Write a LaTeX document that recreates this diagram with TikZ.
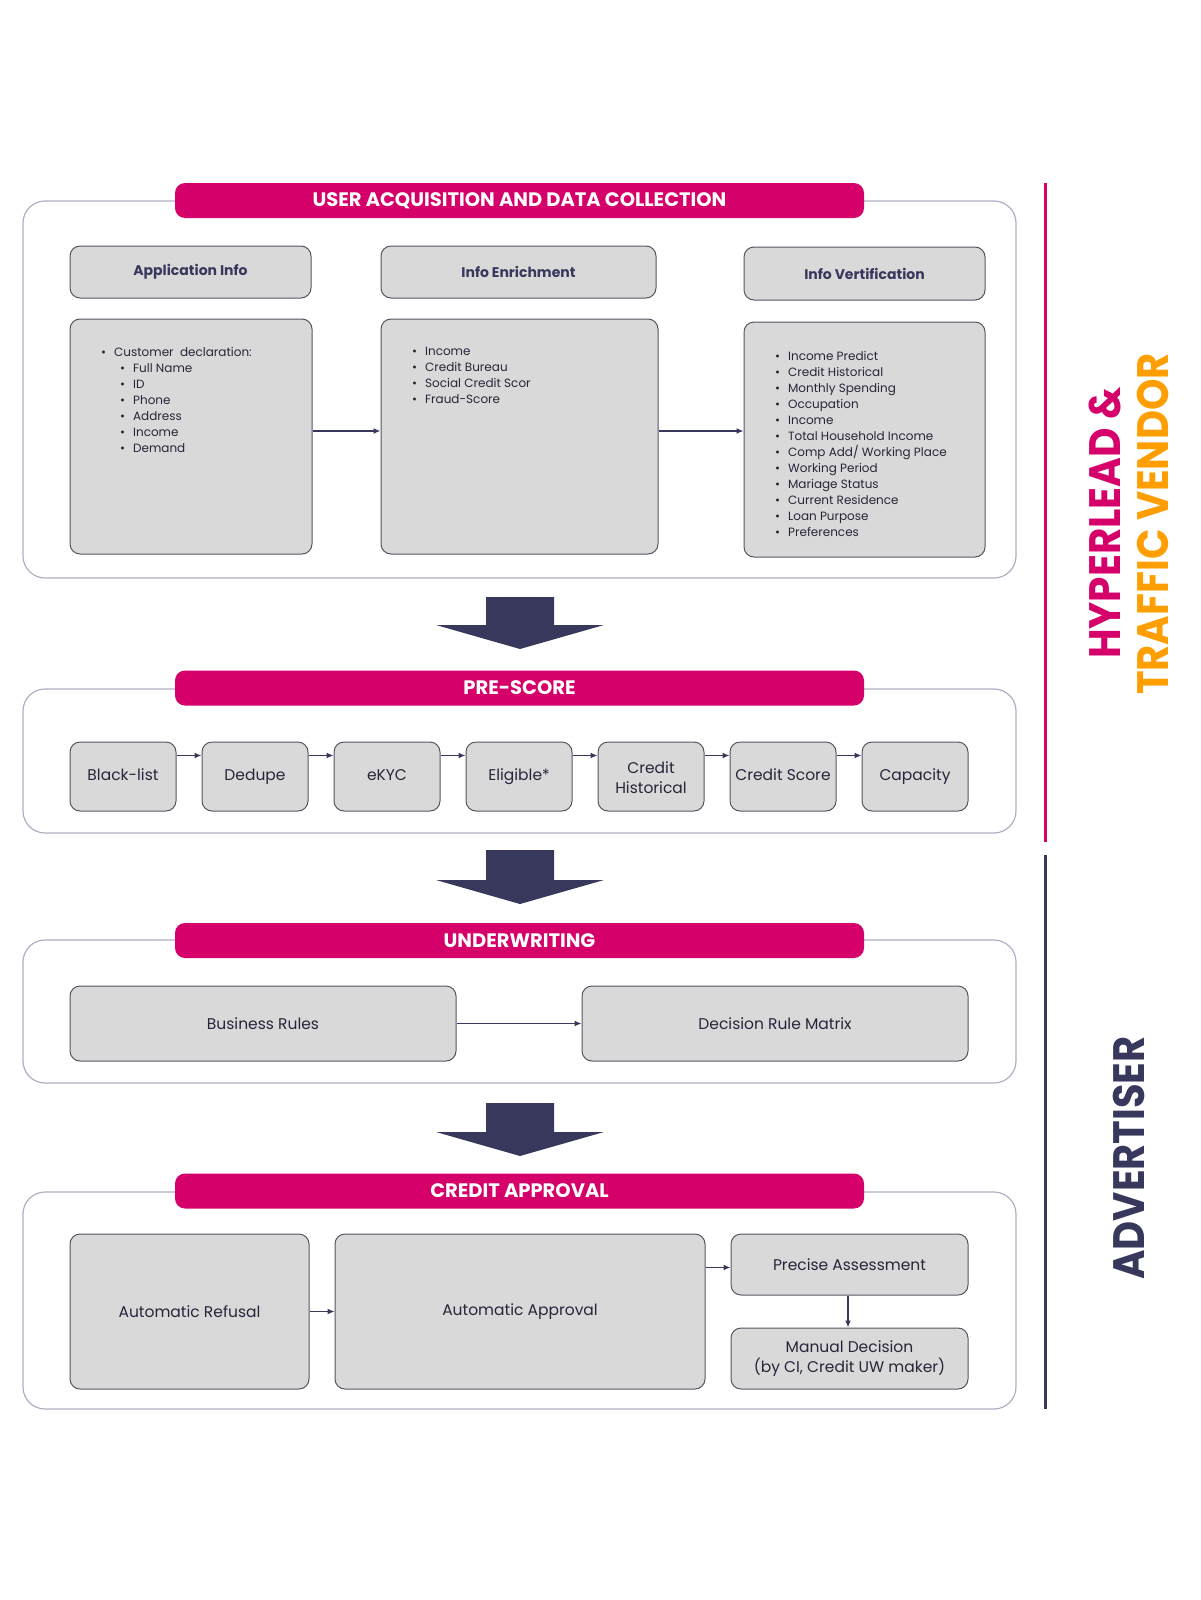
\documentclass[tikz,border=0pt]{standalone}
\usepackage{fontspec}
\setmainfont{Poppins}
\usetikzlibrary{arrows.meta}
\definecolor{brand}{RGB}{214,0,107}
\definecolor{vendor}{RGB}{255,158,0}
\definecolor{navy}{RGB}{55,56,92}
\definecolor{ink}{RGB}{38,38,58}
\definecolor{boxfill}{RGB}{217,217,217}
\definecolor{boxline}{RGB}{85,85,100}
\definecolor{frame}{RGB}{175,175,195}
\tikzset{
  panel/.style={draw=frame, line width=1.2pt, rounded corners=22pt},
  titlebar/.style={fill=brand, rounded corners=10pt, text=white, font=\fontsize{19.5}{22}\selectfont\bfseries, minimum height=35pt, minimum width=689pt},
  headbox/.style={draw=boxline, fill=boxfill, rounded corners=10pt, line width=1pt, text=navy, font=\fontsize{14}{16}\selectfont\bfseries},
  bodybox/.style={draw=boxline, fill=boxfill, rounded corners=10pt, line width=1pt},
  listtext/.style={text=ink, font=\fontsize{12}{16}\selectfont, align=left, inner sep=0pt, anchor=north west},
  stepbox/.style={draw=boxline, fill=boxfill, rounded corners=10pt, line width=1pt, text=ink, font=\fontsize{15.5}{20}\selectfont, align=center, inner sep=2pt},
  flow/.style={navy, line width=1.3pt, -{Latex[length=7pt,width=6pt]}},
  bigarrow/.style={fill=navy},
  sidetext/.style={rotate=90, font=\fontsize{44}{44}\selectfont\bfseries},
}
\begin{document}
\begin{tikzpicture}[x=1pt,y=-1pt]
\useasboundingbox (0,0) rectangle (1200,1600);
% User acquisition
\draw[panel] (23,201) rectangle (1016,578);
\node[titlebar] (acqtitle) at (519.5,200.5) {USER ACQUISITION AND DATA COLLECTION};
\node[headbox, minimum width=241pt, minimum height=52pt] (apphead) at (190.5,272) {Application Info};
\node[headbox, minimum width=275pt, minimum height=52pt] (enrhead) at (518.5,272) {Info Enrichment};
\node[headbox, minimum width=241pt, minimum height=53pt] (verhead) at (864.5,273.5) {Info Vertification};
\node[bodybox, minimum width=242pt, minimum height=235pt] (appbody) at (191,436.5) {};
\node[bodybox, minimum width=277pt, minimum height=235pt] (enrbody) at (519.5,436.5) {};
\node[bodybox, minimum width=241pt, minimum height=235pt] (verbody) at (864.5,439.5) {};
\node[listtext] (applist) at (101,347) {\textbullet\hspace{8pt}Customer\ \ declaration:\\
  \hspace*{19pt}\textbullet\hspace{8pt}Full Name\\
  \hspace*{19pt}\textbullet\hspace{8pt}ID\\
  \hspace*{19pt}\textbullet\hspace{8pt}Phone\\
  \hspace*{19pt}\textbullet\hspace{8pt}Address\\
  \hspace*{19pt}\textbullet\hspace{8pt}Income\\
  \hspace*{19pt}\textbullet\hspace{8pt}Demand};
\node[listtext] (enrlist) at (412,347) {\textbullet\hspace{8pt}Income\\
  \textbullet\hspace{8pt}Credit Bureau\\
  \textbullet\hspace{8pt}Social Credit Scor\\
  \textbullet\hspace{8pt}Fraud-Score};
\node[listtext] (verlist) at (775,351) {\textbullet\hspace{8pt}Income Predict\\
  \textbullet\hspace{8pt}Credit Historical\\
  \textbullet\hspace{8pt}Monthly Spending\\
  \textbullet\hspace{8pt}Occupation\\
  \textbullet\hspace{8pt}Income\\
  \textbullet\hspace{8pt}Total Household Income\\
  \textbullet\hspace{8pt}Comp Add/ Working Place\\
  \textbullet\hspace{8pt}Working Period\\
  \textbullet\hspace{8pt}Mariage Status\\
  \textbullet\hspace{8pt}Current Residence\\
  \textbullet\hspace{8pt}Loan Purpose\\
  \textbullet\hspace{8pt}Preferences};
\draw[flow] ([yshift=5.5pt]appbody.east) -- ([yshift=5.5pt]enrbody.west);
\draw[flow] ([yshift=5.5pt]enrbody.east) -- ([yshift=8.5pt]verbody.west);
\fill[bigarrow] (486,597) -- (554,597) -- (554,625) -- (604,625) -- (520,649) -- (436,625) -- (486,625) -- cycle;
% Pre-score
\draw[panel] (23,689) rectangle (1016,833);
\node[titlebar] (pretitle) at (519.5,688) {PRE-SCORE};
\foreach \name/\lbl [count=\i from 0] in {blacklist/Black-list, dedupe/Dedupe, ekyc/eKYC, eligible/Eligible*, credhist/{Credit\\Historical}, credscore/Credit Score, capacity/Capacity}
  \node[stepbox, minimum width=106pt, minimum height=69pt] (\name) at ({123+132*\i},776.5) {\strut\lbl};
\foreach \a/\b in {blacklist/dedupe, dedupe/ekyc, ekyc/eligible, eligible/credhist, credhist/credscore, credscore/capacity}
  \draw[flow] ([yshift=21pt]\a.east) -- ([yshift=21pt]\b.west);
\fill[bigarrow] (486,850) -- (554,850) -- (554,880) -- (604,880) -- (520,904) -- (436,880) -- (486,880) -- cycle;
% Underwriting
\draw[panel] (23,940) rectangle (1016,1083);
\node[titlebar] (uwtitle) at (519.5,940.5) {UNDERWRITING};
\node[stepbox, minimum width=386pt, minimum height=75pt] (busrules) at (263,1023.5) {Business Rules};
\node[stepbox, minimum width=386pt, minimum height=75pt] (drmatrix) at (775,1023.5) {Decision Rule Matrix};
\draw[flow] (busrules) -- (drmatrix);
\fill[bigarrow] (486,1103) -- (554,1103) -- (554,1132) -- (604,1132) -- (520,1156) -- (436,1132) -- (486,1132) -- cycle;
% Credit approval
\draw[panel] (23,1192) rectangle (1016,1409);
\node[titlebar] (aptitle) at (519.5,1191) {CREDIT APPROVAL};
\node[stepbox, minimum width=239pt, minimum height=155pt] (refusal) at (189.5,1311.5) {Automatic Refusal};
\node[stepbox, minimum width=370pt, minimum height=155pt] (approval) at (520,1311.5) {Automatic Approval};
\node[stepbox, minimum width=237pt, minimum height=61pt] (precise) at (849.5,1264.5) {Precise Assessment};
\node[stepbox, minimum width=237pt, minimum height=61pt] (manual) at (849.5,1358.5) {Manual Decision\\(by CI, Credit UW maker)};
\draw[flow] (refusal) -- (approval);
\draw[flow] ([yshift=-3pt]approval.east |- precise) -- ([yshift=-3pt]precise.west);
\draw[flow] ([xshift=-1.5pt]precise.south) -- ([xshift=-1.5pt]manual.north);
% Sides
\draw[brand, line width=3pt] (1045,183) -- (1045,842);
\draw[navy, line width=3pt] (1045,855) -- (1045,1409);
\node[sidetext, text=brand] (hyper) at (1105,523) {\scalebox{0.92}[1]{HYPERLEAD \&}};
\node[sidetext, text=vendor] (vendorlbl) at (1153,524) {\scalebox{0.91}[1]{TRAFFIC VENDOR}};
\node[sidetext, text=navy] (advert) at (1129,1158) {\scalebox{0.91}[1]{ADVERTISER}};
\end{tikzpicture}
\end{document}
